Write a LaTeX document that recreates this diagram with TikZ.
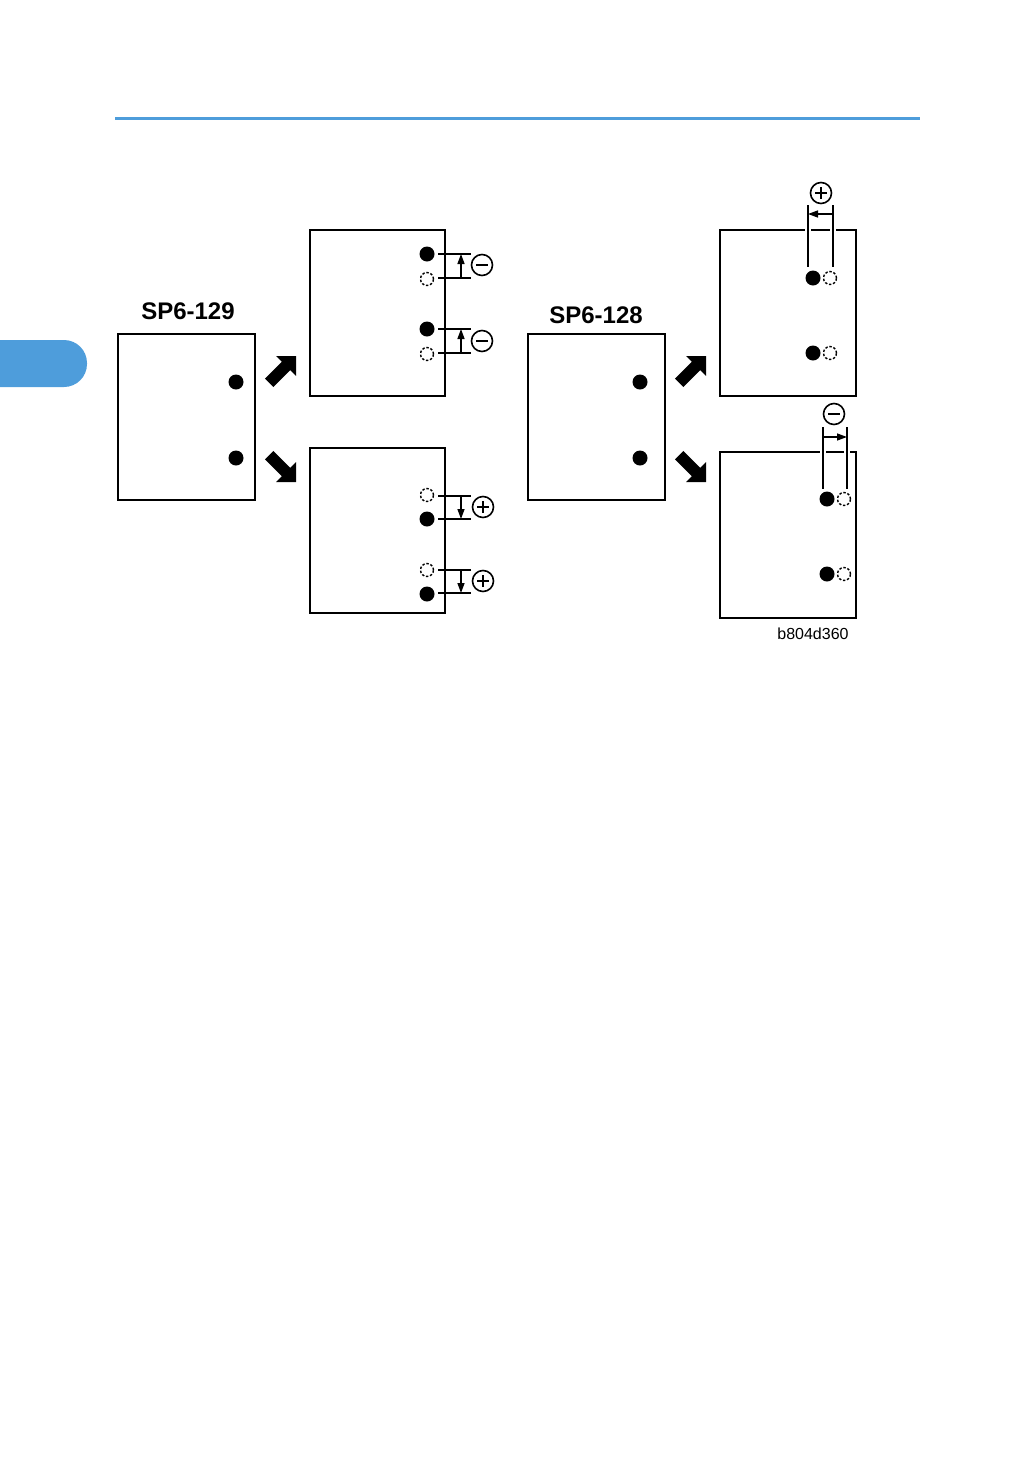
\documentclass[tikz,border=0pt]{standalone}
\usepackage{fontspec}
\setmainfont{Liberation Sans}
\usetikzlibrary{arrows.meta}
\definecolor{tabblue}{HTML}{4E9DDB}
\begin{document}
\begin{tikzpicture}[x=1pt,y=-1pt,
  box/.style={draw, line width=1.8pt, rectangle, inner sep=0pt},
  fdot/.style={circle, fill=black, minimum size=15pt, inner sep=0pt},
  ddot/.style={circle, draw, dash pattern=on 2.4pt off 1.8pt, line width=1.4pt, minimum size=13pt, inner sep=0pt},
  sign/.style={circle, draw, line width=1.6pt, minimum size=21pt, inner sep=0pt},
  signbar/.style={line width=2.6pt},
  dim/.style={line width=1.4pt},
  dimline/.style={line width=1.4pt, preaction={draw=white, line width=6pt}},
  dimarrow/.style={line width=1.4pt, -{Triangle[length=10pt,width=7pt]}},
  title/.style={font=\bfseries\fontsize{24}{28}\selectfont, inner sep=0pt},
  fatarrow/.pic={\fill (0,0) -- (-14,14) -- (-14,6) -- (-38,6) -- (-38,-6) -- (-14,-6) -- (-14,-14) -- cycle;}
]
\useasboundingbox (0,0) rectangle (1036,1470);
% header line and tab
\draw[tabblue, line width=3pt] (115,118) -- (920,118);
\fill[tabblue, rounded corners=23pt] (-30,340) -- (87,340) -- (87,387) -- (-30,387) -- cycle;

% ---------- left: SP6-129 ----------
\node[title] (t1) at (188,311) {SP6-129};
\node[box, minimum width=137pt, minimum height=166pt] (A) at (186.5,417) {};
\node[fdot] (a1) at (236,382) {};
\node[fdot] (a2) at (236,458) {};

\pic[rotate=45] at (296,356) {fatarrow};
\pic[rotate=-45] at (296,482) {fatarrow};

\node[box, minimum width=135pt, minimum height=166pt] (B) at (377.5,313) {};
\node[fdot] (b1) at (427,254) {};
\node[ddot] (b2) at (427,279) {};
\node[fdot] (b3) at (427,329) {};
\node[ddot] (b4) at (427,354) {};
\draw[dim] (438,254) -- (471,254);
\draw[dim] (438,278) -- (471,278);
\draw[dimarrow] (461,278) -- (461,254);
\node[sign] (m1) at (482,265) {};
\draw[signbar] (m1.center) +(-6,0) -- +(6,0);
\draw[dim] (438,329) -- (471,329);
\draw[dim] (438,353) -- (471,353);
\draw[dimarrow] (461,353) -- (461,329);
\node[sign] (m2) at (482,341) {};
\draw[signbar] (m2.center) +(-6,0) -- +(6,0);

\node[box, minimum width=135pt, minimum height=165pt] (C) at (377.5,530.5) {};
\node[ddot] (c1) at (427,495) {};
\node[fdot] (c2) at (427,519) {};
\node[ddot] (c3) at (427,570) {};
\node[fdot] (c4) at (427,594) {};
\draw[dim] (438,496) -- (471,496);
\draw[dim] (438,519) -- (471,519);
\draw[dimarrow] (461,496) -- (461,519);
\node[sign] (p1) at (483,507) {};
\draw[signbar] (p1.center) +(-6,0) -- +(6,0) (p1.center) +(0,-6) -- +(0,6);
\draw[dim] (438,570) -- (471,570);
\draw[dim] (438,593) -- (471,593);
\draw[dimarrow] (461,570) -- (461,593);
\node[sign] (p2) at (483,581) {};
\draw[signbar] (p2.center) +(-6,0) -- +(6,0) (p2.center) +(0,-6) -- +(0,6);

% ---------- right: SP6-128 ----------
\node[title] (t2) at (596,315) {SP6-128};
\node[box, minimum width=137pt, minimum height=166pt] (D) at (596.5,417) {};
\node[fdot] (d1) at (640,382) {};
\node[fdot] (d2) at (640,458) {};

\pic[rotate=45] at (706,356) {fatarrow};
\pic[rotate=-45] at (706,482) {fatarrow};

\node[box, minimum width=136pt, minimum height=166pt] (E) at (788,313) {};
\draw[dimline] (808,205) -- (808,267);
\draw[dimline] (833,205) -- (833,267);
\draw[dimarrow] (833,214) -- (808,214);
\node[sign] (p3) at (821,193) {};
\draw[signbar] (p3.center) +(-6,0) -- +(6,0) (p3.center) +(0,-6) -- +(0,6);
\node[fdot] (e1) at (813,278) {};
\node[ddot] (e2) at (830,278) {};
\node[fdot] (e3) at (813,353) {};
\node[ddot] (e4) at (830,353) {};

\node[box, minimum width=136pt, minimum height=166pt] (F) at (788,535) {};
\draw[dimline] (823,427) -- (823,489);
\draw[dimline] (847,427) -- (847,489);
\draw[dimarrow] (823,437) -- (847,437);
\node[sign] (m3) at (834,414) {};
\draw[signbar] (m3.center) +(-6,0) -- +(6,0);
\node[fdot] (f1) at (827,499) {};
\node[ddot] (f2) at (844,499) {};
\node[fdot] (f3) at (827,574) {};
\node[ddot] (f4) at (844,574) {};

\node[font=\fontsize{16}{19}\selectfont, inner sep=0pt] (ref) at (813,634) {b804d360};
\end{tikzpicture}
\end{document}
